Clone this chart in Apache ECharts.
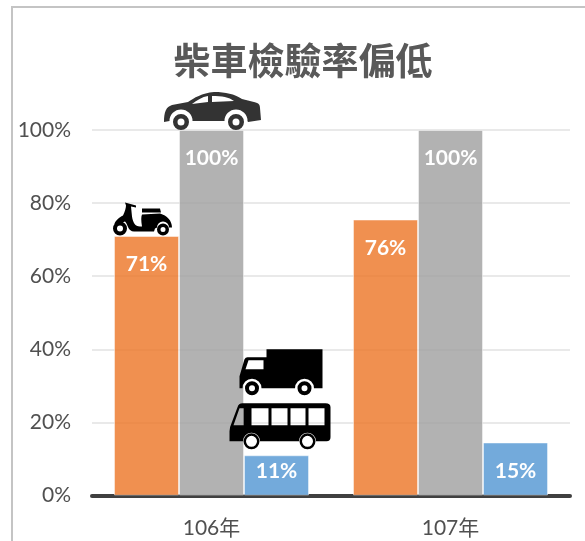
<!DOCTYPE html>
<html>
<head>
<meta charset="utf-8">
<style>
  html, body { margin: 0; padding: 0; background: #fff; }
  #chart { width: 585px; height: 541px; }
</style>
<script src="https://cdn.jsdelivr.net/npm/echarts@6/dist/echarts.min.js"></script>
</head>
<body>
<div id="chart"></div>
<script>
const categories = ['106年', '107年'];
const scooterValues = [71, 75.5];
const carValues = [100, 100];
const heavyValues = [11, 14.5];
const FONT = 'Lato, "Noto Sans CJK TC", sans-serif';

// 圖示 (outer shape clockwise, holes counter-clockwise)
const wheel = (x, y, r, hub) =>
  `M${x - r} ${y}A${r} ${r} 0 1 1 ${x + r} ${y}A${r} ${r} 0 1 1 ${x - r} ${y}Z` +
  `M${x - hub} ${y}A${hub} ${hub} 0 1 0 ${x + hub} ${y}A${hub} ${hub} 0 1 0 ${x - hub} ${y}Z`;

const carIcon = 'path://M0 30C0 20 2 15 8 13L24 10C30 6 38 1 50 0C62 0 70 2 78 7L90 10C95 11 96 13 96 16L97 28L84 30'
  + 'L83.5 29A11.5 11.5 0 0 0 60.5 29L28.5 29A11.5 11.5 0 0 0 5.5 29L0 30Z'
  + 'M28 12L44 10L44 4C38 5 33 8 28 12Z M48 10L70 9C65 5 58 4 48 4Z'
  + wheel(17, 30, 8, 3.5) + wheel(72, 30, 8, 3.5);

const scooterIcon = 'path://M12 0L23 3L23 5L18 4L19 14C20 20 22 24 27 24L29 24C28 18 28 14 29 12L47 11C54 13 59 18 59 25L56 25'
  + 'A6 6 0 0 0 44 25L42 26L41 29L21 29C15 29 15 22 12 19L1 23C2 18 6 15 10 13C12 9 13 5 13 3Z'
  + 'M29 6L47 6L48 10L29 10Z'
  + wheel(7, 26, 7, 3) + wheel(50, 27, 6, 2.5);

const truckIcon = 'path://M0 39L0 27L5 10Q6 8 8 8L27 8L27 0L83 0L83 39L74.5 39A9.5 9.5 0 0 0 55.5 39L22 39A9.5 9.5 0 0 0 3 39Z'
  + 'M6 20L24 20L24 11L9 11Z'
  + wheel(12.5, 39, 7, 3) + wheel(65, 39, 7, 3);

const busIcon = 'path://M0 38L0 28Q0 24 2 20L8 4Q9 0 13 0L96 0Q101 0 101 4L101 34Q101 38 97 38L86.5 38A8.5 8.5 0 0 0 69.5 38'
  + 'L30.5 38A8.5 8.5 0 0 0 13.5 38Z'
  + 'M4 22L14 22L14 5L10 5Z M22 22L39 22L39 5L22 5Z M42 22L58 22L58 5L42 5Z M61 22L76 22L76 5L61 5Z M79 22L95 22L95 5L79 5Z'
  + wheel(22, 38, 8, 5.5) + wheel(78, 38, 8, 5.5);

const barSeries = (name, values, color, extra) => ({
  name,
  type: 'bar',
  barWidth: 65,
  barGap: '0%',
  data: values,
  itemStyle: { color, borderColor: 'rgba(255,255,255,0.45)', borderWidth: 1 },
  label: {
    show: true,
    position: 'insideTop',
    distance: 18,
    formatter: (p) => Math.round(p.value) + '%',
    color: '#fff',
    fontFamily: FONT,
    fontWeight: 'bold',
    fontSize: 21,
  },
  ...extra,
});

const chart = echarts.init(document.getElementById('chart'));
chart.setOption({
  animation: false,
  title: {
    text: '柴車檢驗率偏低',
    left: 298,
    top: 37,
    textAlign: 'center',
    textStyle: { color: '#595959', fontSize: 37, fontWeight: 'bold', fontFamily: '"Noto Sans CJK TC", sans-serif' },
  },
  graphic: [
    { type: 'polyline', silent: true, shape: { points: [[12, 541], [12, 7], [585, 7]] }, style: { stroke: '#c4c4c4', lineWidth: 2, fill: null } },
  ],
  grid: { left: 92, right: 15, top: 130, bottom: 45.5 },
  xAxis: {
    type: 'category',
    data: categories,
    axisTick: { show: false },
    axisLine: { lineStyle: { color: '#404040', width: 4 } },
    axisLabel: { color: '#505050', fontSize: 21, fontFamily: FONT, margin: 22 },
  },
  yAxis: {
    type: 'value',
    min: 0,
    max: 100,
    interval: 20,
    axisLine: { show: false },
    axisTick: { show: false },
    axisLabel: { color: '#505050', fontSize: 21, fontFamily: FONT, margin: 21, formatter: '{value}%' },
    splitLine: { lineStyle: { color: '#e2e2e2', width: 1.5 } },
  },
  series: [
    barSeries('機車', scooterValues, 'rgba(237,125,49,0.85)', {
      markPoint: {
        silent: true,
        label: { show: false },
        itemStyle: { color: '#000' },
        data: [{ coord: [categories[0], scooterValues[0]], symbol: scooterIcon, symbolSize: [59, 33], symbolOffset: [-4, -17] }],
      },
    }),
    barSeries('小型車', carValues, 'rgba(165,165,165,0.85)', {
      markPoint: {
        silent: true,
        label: { show: false },
        itemStyle: { color: '#333' },
        data: [{ coord: [categories[0], carValues[0]], symbol: carIcon, symbolSize: [97, 38], symbolOffset: [1, -19] }],
      },
    }),
    barSeries('大型車', heavyValues.map((v, i) => (i === 0 ? { value: v, label: { distance: 5 } } : v)), 'rgba(91,155,213,0.85)', {
      markPoint: {
        silent: true,
        label: { show: false },
        itemStyle: { color: '#000' },
        data: [
          { coord: [categories[0], heavyValues[0]], symbol: truckIcon, symbolSize: [83, 46], symbolOffset: [4.5, -83] },
          { coord: [categories[0], heavyValues[0]], symbol: busIcon, symbolSize: [101, 46], symbolOffset: [3.5, -29] },
        ],
      },
    }),
  ],
});
window.addEventListener('resize', () => chart.resize());
</script>
</body>
</html>
